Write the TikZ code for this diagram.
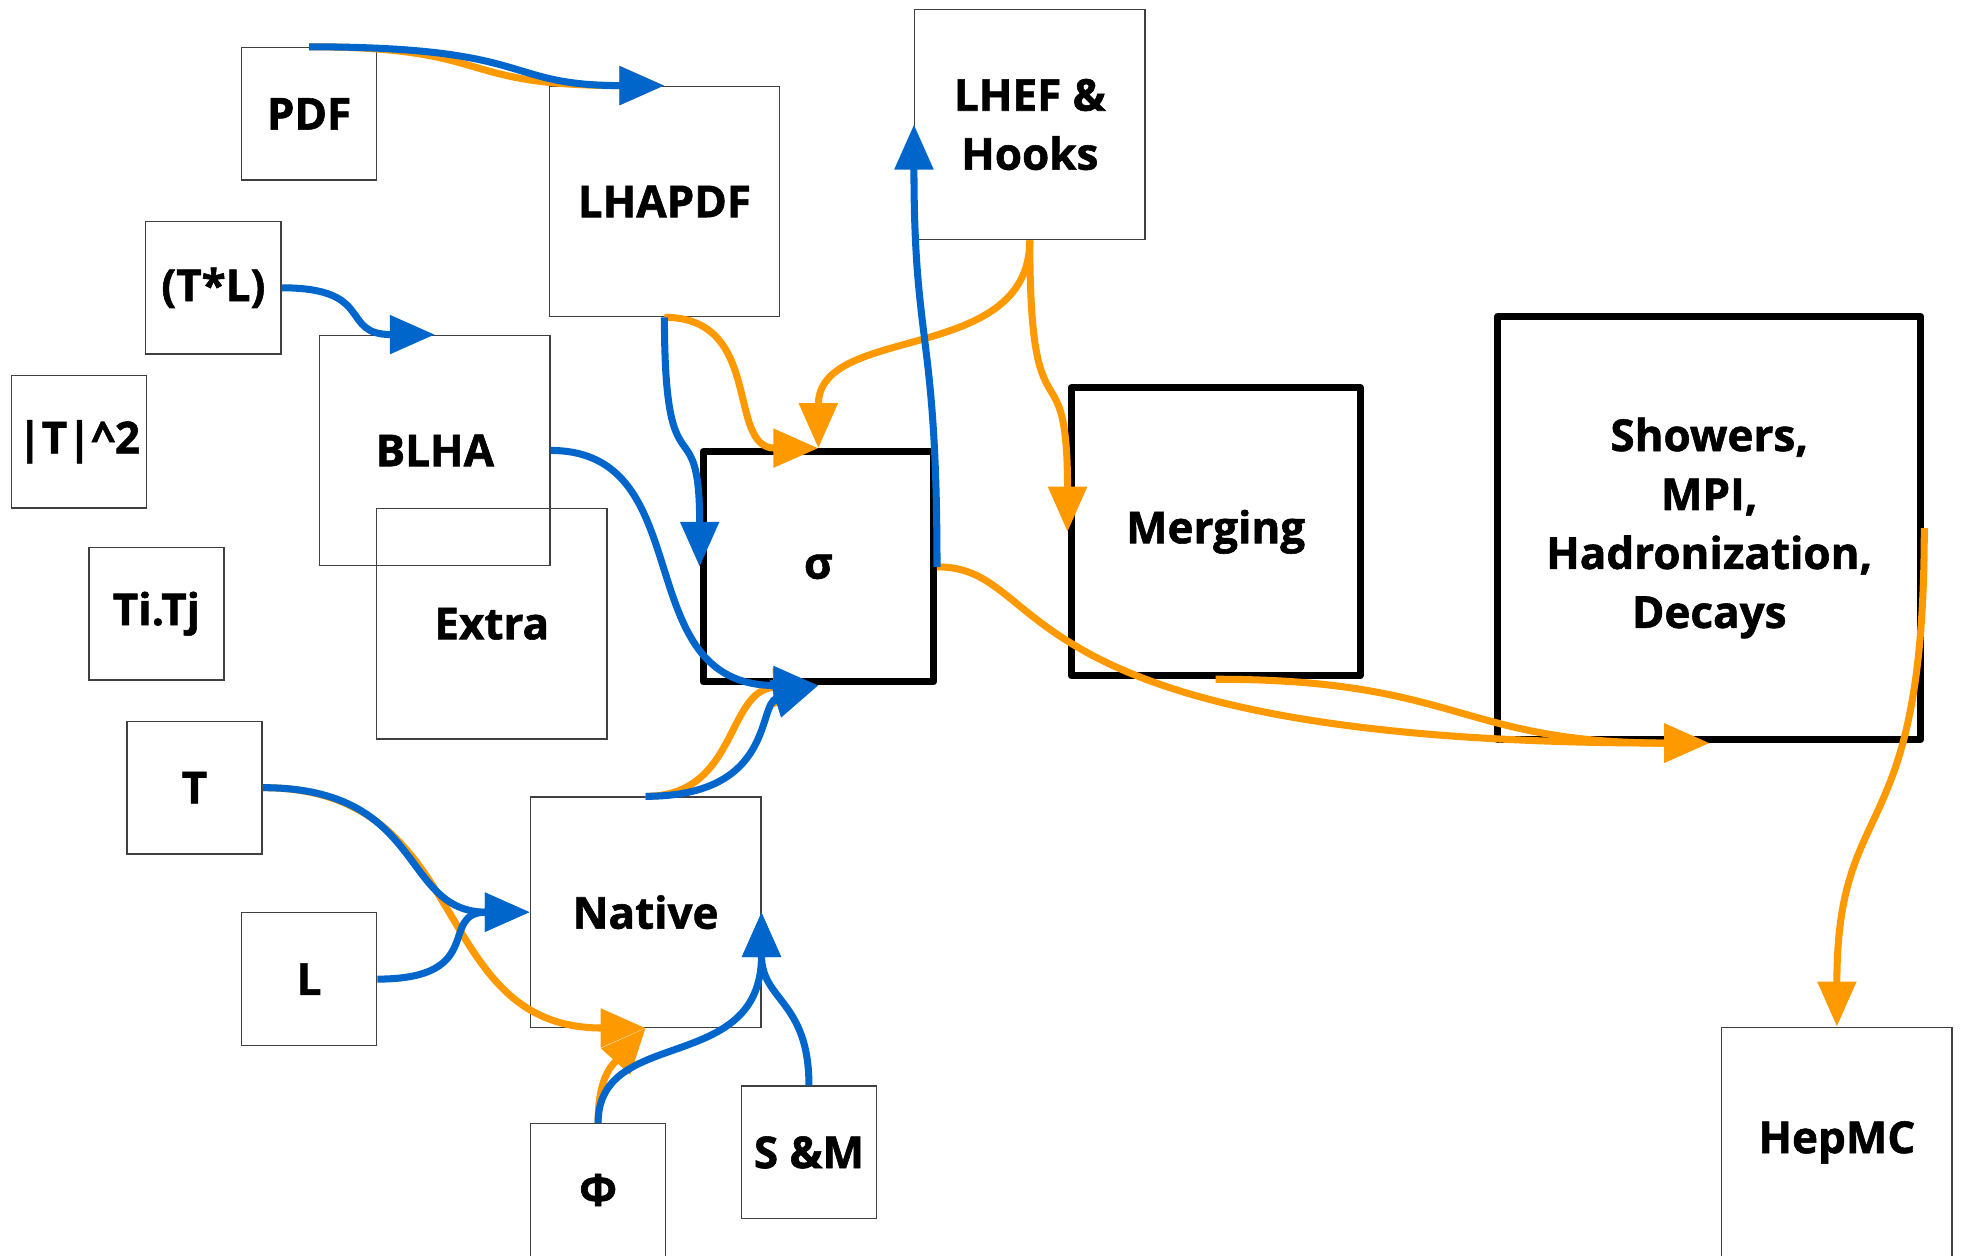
\documentclass[tikz,border=0pt]{standalone}
\usepackage{fontspec}
\setmainfont{Open Sans}[BoldFeatures={FakeBold=1.3}]
\usetikzlibrary{arrows.meta}
\definecolor{flowblue}{RGB}{0,102,204}
\definecolor{floworange}{RGB}{255,153,0}
\tikzset{
  lbl/.style={font=\fontsize{25}{33.5}\selectfont\bfseries, align=center,
    inner sep=0pt, text=black, rectangle},
  thinbox/.style={lbl, draw=black!75, line width=0.8pt},
  thickbox/.style={lbl, draw=black, line width=4pt, line join=round},
  smallsz/.style={minimum width=2.7cm, minimum height=2.65cm},
  bigsz/.style={minimum width=4.6cm, minimum height=4.6cm},
  flow/.style={line width=4pt, -{Triangle[length=0.9cm,width=0.75cm]}},
  blueflow/.style={flow, draw=flowblue},
  orangeflow/.style={flow, draw=floworange},
}
\begin{document}
\begin{tikzpicture}[x=0.025cm, y=-0.025cm]
\useasboundingbox (0,0) rectangle (1568,1003);

% input boxes
\node[thinbox, smallsz] (PDF)   at (247,91)    {PDF};
\node[thinbox, smallsz] (TL)    at (170.5,230) {(T*L)};
\node[thinbox, smallsz] (T2)    at (63,353)    {|T|\textasciicircum2};
\node[thinbox, smallsz] (TiTj)  at (125,490.5) {Ti.Tj};
\node[thinbox, smallsz] (T)     at (155.5,629.5) {T};
\node[thinbox, smallsz] (L)     at (247,782.5) {L};
\node[thinbox, smallsz] (Phi)   at (478,951)   {Φ};
\node[thinbox, smallsz] (SM)    at (646.5,921) {S \&M};

% interface boxes
\node[thinbox, bigsz] (LHAPDF) at (531,161)    {LHAPDF};
\node[thinbox, bigsz] (LHEF)   at (823,99.5)   {LHEF \&\\Hooks};
\node[thinbox, bigsz] (BLHA)   at (347.5,360)  {BLHA};
\node[thinbox, bigsz] (Extra)  at (393,498.5)  {Extra};
\node[thinbox, bigsz] (Native) at (516,729)    {Native};
\node[thinbox, bigsz] (HepMC)  at (1468,913)   {HepMC};

% core stages
\node[thickbox, bigsz] (sigma) at (654,453) {σ};
\node[thickbox, minimum width=5.775cm, minimum height=5.75cm] (Merging) at (971.5,425) {Merging};
\node[thickbox, minimum width=8.45cm, minimum height=8.45cm] (Showers) at (1366,422)
  {Showers,\\MPI,\\Hadronization,\\Decays};

% orange flows
\draw[orangeflow] (PDF.north) .. controls +(150,0) and +(-170,0) .. (LHAPDF.north);
\draw[orangeflow] (LHAPDF.south) .. controls +(80,0) and +(-74,0) .. (sigma.north);
\draw[orangeflow] (LHEF.south) .. controls +(0,100) and +(0,-100) .. (sigma.north);
\draw[orangeflow] (LHEF.south) .. controls +(0,170) and +(0,-156) .. (Merging.west);
\draw[orangeflow] (sigma.east) .. controls +(94,0) and +(-576,0) .. (Showers.south);
\draw[orangeflow] (Merging.south) .. controls +(195,0) and +(-200,0) .. (Showers.south);
\draw[orangeflow] (Showers.east) .. controls +(0,260) and +(0,-190) .. (HepMC.north);
\draw[orangeflow] (T.east) .. controls +(171,0) and +(-176,0) .. (Native.south);
\draw[orangeflow] (Native.north) .. controls +(74,0) and +(-74,3) .. (sigma.south);
\draw[orangeflow] (Phi.north) .. controls +(0,-38) and +(-26,29) .. (Native.south);

% blue flows
\draw[blueflow] (Native.north) .. controls +(104,0) and +(-49,15) .. (sigma.south);
\draw[blueflow] (PDF.north) .. controls +(183,0) and +(-131,0) .. (LHAPDF.north);
\draw[blueflow] (TL.east) .. controls +(76,0) and +(-77,0) .. (BLHA.north);
\draw[blueflow] (LHAPDF.south) .. controls +(0,147) and +(0,-133) .. (sigma.west);
\draw[blueflow] (sigma.east) .. controls +(0,-190) and +(0,180) .. (LHEF.west);
\draw[blueflow] (T.east) .. controls +(131,0) and +(-104,0) .. (Native.west);
\draw[blueflow] (L.east) .. controls +(89,0) and +(-74,0) .. (Native.west);
\draw[blueflow] (Phi.north) .. controls +(0,-78) and +(0,131) .. (Native.east);
\draw[blueflow] (SM.north) .. controls +(0,-68) and +(0,71) .. (Native.east);
\draw[blueflow] (BLHA.east) .. controls +(121,0) and +(-154,0) .. (sigma.south);
\end{tikzpicture}
\end{document}
